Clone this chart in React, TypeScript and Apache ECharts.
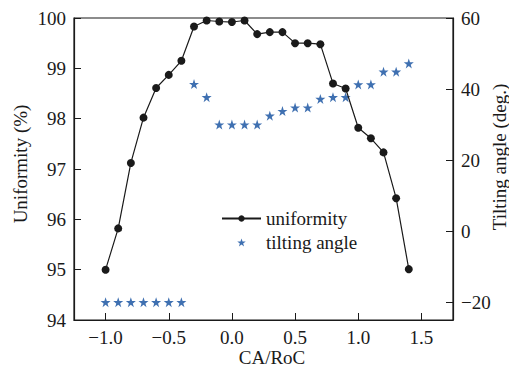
import React, { useEffect, useRef } from "react";
import * as echarts from "echarts";

const caRoc = [-1.0, -0.9, -0.8, -0.7, -0.6, -0.5, -0.4, -0.3, -0.2, -0.1, 0.0, 0.1, 0.2, 0.3, 0.4, 0.5, 0.6, 0.7, 0.8, 0.9, 1.0, 1.1, 1.2, 1.3, 1.4];
const uniformity = [95.0, 95.82, 97.12, 98.02, 98.61, 98.87, 99.15, 99.83, 99.95, 99.93, 99.92, 99.95, 99.68, 99.72, 99.72, 99.5, 99.5, 99.48, 98.7, 98.6, 97.82, 97.61, 97.33, 96.42, 95.01];
const tiltingAngle = [-20, -20, -20, -20, -20, -20, -20, 41.4, 37.7, 30, 30, 30, 30, 32.5, 33.8, 34.8, 34.8, 37.2, 37.7, 37.7, 41.3, 41.3, 44.9, 44.9, 47.2];
const xTicks = [-1.0, -0.5, 0.0, 0.5, 1.0, 1.5];
const rightTicks = [-20, 0, 20, 40, 60];

const STAR = "path://M50,0 L61.8,35.1 L98.1,35.1 L68.8,56.7 L79.4,90.9 L50,69.1 L20.6,90.9 L31.2,56.7 L1.9,35.1 L38.2,35.1 Z";
const FONT = "'Liberation Serif', 'Times New Roman', serif";
const INK = "#1a1a1a";
const BLUE = "#0f4c9e";

const fmtMinus = (s: string) => s.replace("-", "\u2212");

export default function App() {
  const ref = useRef<HTMLDivElement>(null);
  useEffect(() => {
    if (!ref.current) return;
    const chart = echarts.init(ref.current, null, { renderer: "svg" });
    chart.setOption({
      animation: false,
      backgroundColor: "#ffffff",
      grid: { left: 74, top: 18, width: 379, height: 302, show: true, borderColor: INK, borderWidth: 1.2, backgroundColor: "transparent" },
      legend: {
        orient: "vertical",
        left: 216,
        top: 204,
        itemWidth: 39,
        itemHeight: 8,
        itemGap: 5,
        textStyle: { fontFamily: FONT, fontSize: 19, color: INK },
        data: [
          { name: "uniformity" },
          { name: "tilting angle", icon: STAR, itemStyle: { color: BLUE } },
        ],
      },
      xAxis: {
        type: "value",
        min: -1.25,
        max: 1.75,
        axisLine: { show: true, onZero: false, lineStyle: { color: INK, width: 1.2 } },
        axisTick: { show: true, inside: true, length: 7, customValues: xTicks, lineStyle: { color: INK } },
        axisLabel: { customValues: xTicks, fontFamily: FONT, fontSize: 19, color: INK, margin: 8, formatter: (v: number) => fmtMinus(v.toFixed(1)) },
        splitLine: { show: false },
      },
      yAxis: [
        {
          type: "value",
          min: 94,
          max: 100,
          interval: 1,
          position: "left",
          axisLine: { show: true, onZero: false, lineStyle: { color: INK, width: 1.2 } },
          axisTick: { show: true, inside: true, length: 7, lineStyle: { color: INK } },
          axisLabel: { fontFamily: FONT, fontSize: 19, color: INK, margin: 8 },
          splitLine: { show: false },
        },
        {
          type: "value",
          min: -25,
          max: 60,
          position: "right",
          axisLine: { show: true, onZero: false, lineStyle: { color: INK, width: 1.2 } },
          axisTick: { show: true, inside: true, length: 7, customValues: rightTicks, lineStyle: { color: INK } },
          axisLabel: { customValues: rightTicks, fontFamily: FONT, fontSize: 19, color: INK, margin: 8, formatter: (v: number) => fmtMinus(String(v)) },
          splitLine: { show: false },
        },
      ],
      graphic: [
        { type: "text", x: 20, y: 164, rotation: Math.PI / 2, style: { text: "Uniformity (%)", font: `19px ${FONT}`, fill: INK, align: "center", verticalAlign: "middle" } },
        { type: "text", x: 499, y: 157, rotation: Math.PI / 2, style: { text: "Tilting angle (deg.)", font: `19px ${FONT}`, fill: INK, align: "center", verticalAlign: "middle" } },
        { type: "text", x: 272, y: 357, style: { text: "CA/RoC", font: `19px ${FONT}`, fill: INK, align: "center", verticalAlign: "middle" } },
      ],
      series: [
        {
          name: "uniformity",
          type: "line",
          yAxisIndex: 0,
          data: caRoc.map((x, i) => [x, uniformity[i]]),
          symbol: "circle",
          symbolSize: 8,
          lineStyle: { color: INK, width: 1.2 },
          itemStyle: { color: INK },
          z: 3,
        },
        {
          name: "tilting angle",
          type: "scatter",
          yAxisIndex: 1,
          data: caRoc.map((x, i) => [x, tiltingAngle[i]]),
          symbol: STAR,
          symbolSize: 10,
          itemStyle: { color: BLUE },
          z: 2,
        },
      ],
    });
    return () => chart.dispose();
  }, []);
  return <div ref={ref} style={{ width: 509, height: 373, position: "absolute", left: 0, top: 0 }} />;
}
